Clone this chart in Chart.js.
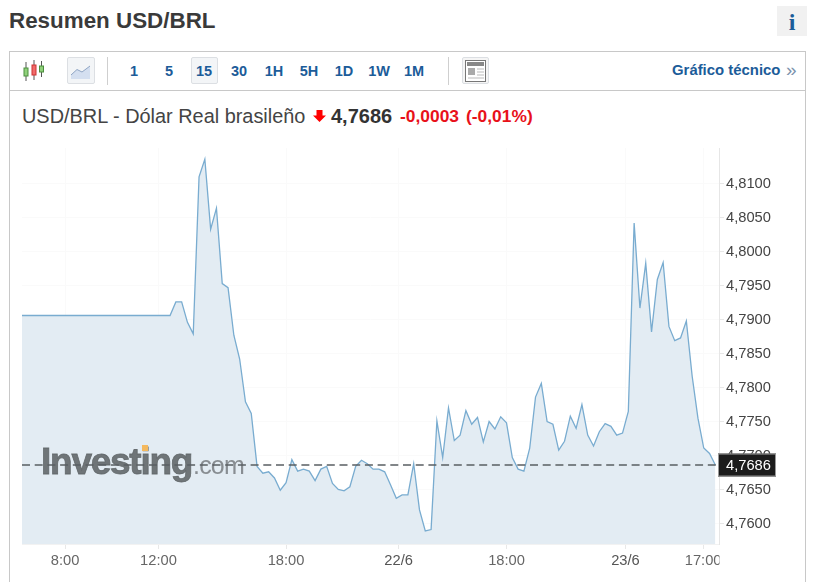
<!DOCTYPE html>
<html lang="es"><head><meta charset="utf-8"><title>USD/BRL</title>
<script src="https://cdn.jsdelivr.net/npm/chart.js@4"></script>
<style>
html,body{margin:0;padding:0;background:#fff;overflow:hidden}
body{width:818px;height:582px;position:relative;font-family:"Liberation Sans",Arial,sans-serif;color:#333}
.a{position:absolute;white-space:nowrap}
.tf{position:absolute;top:63px;width:30px;text-align:center;font-weight:bold;font-size:14.5px;line-height:17px;color:#1c5c99}
.btn{position:absolute;top:57px;height:27px;box-sizing:border-box;border:1px solid #dcdfe3;border-radius:2px;background:#f3f5f7}
canvas{position:absolute;left:0;top:0}
</style></head><body>
<div class="a" style="left:9px;top:8px;font-size:22.4px;line-height:26px;font-weight:bold;color:#3a3a3a">Resumen USD/BRL</div>
<div class="a" style="left:777px;top:6px;width:30px;height:30px;background:#f1f1f1;color:#1c5c99;font:bold 24px/32px 'Liberation Serif',serif;text-align:center">i</div>
<div class="a" style="left:9px;top:51px;width:797px;height:531px;box-sizing:border-box;border:1px solid #c8c8c8;border-bottom:0"></div>
<div class="a" style="left:10px;top:90px;width:795px;height:1px;background:#c8c8c8"></div>
<svg class="a" style="left:22px;top:60px" width="24" height="22" viewBox="0 0 24 22">
<path d="M4 2v19M12 0v20M19.500 1v16" stroke="#555" stroke-width="1" fill="none"/>
<rect x="2" y="8" width="4" height="8" fill="#8fd07a" stroke="#4d8f3f"/><rect x="10" y="5" width="4" height="10" fill="#f06a6a" stroke="#c33"/><rect x="17.500" y="6" width="4" height="6" fill="#8fd07a" stroke="#4d8f3f"/></svg>
<div class="btn" style="left:67px;width:28px"></div>
<svg class="a" style="left:70px;top:62px" width="22" height="18" viewBox="0 0 22 18">
<path d="M1 13L7 7.500 12 10 20 4V17H1Z" fill="#d4dff0"/><path d="M1 13L7 7.500 12 10 20 4" stroke="#8fa5c4" fill="none"/></svg>
<div class="a" style="left:107px;top:57px;width:1px;height:28px;background:#cfcfcf"></div>
<div class="btn" style="left:191px;width:27px"></div>
<div class="tf" style="left:119px">1</div><div class="tf" style="left:154px">5</div><div class="tf" style="left:189px">15</div><div class="tf" style="left:224px">30</div><div class="tf" style="left:259px">1H</div><div class="tf" style="left:294px">5H</div><div class="tf" style="left:329px">1D</div><div class="tf" style="left:364px">1W</div><div class="tf" style="left:399px">1M</div>
<div class="a" style="left:448px;top:57px;width:1px;height:28px;background:#cfcfcf"></div>
<div class="btn" style="left:462px;width:27px;background:#f5f5f5"></div>
<svg class="a" style="left:465px;top:60px" width="21" height="22" viewBox="0 0 21 22">
<rect x=".5" y=".5" width="20" height="21" fill="#fff" stroke="#777"/><rect x="2" y="2" width="17" height="4" fill="#888"/><rect x="3" y="8" width="7" height="7" fill="#aaa"/><path d="M12 9h7M12 12h7M12 15h7M3 18h16" stroke="#bbb"/></svg>
<div class="a" style="left:672px;top:62px;font-size:14.9px;line-height:17px;font-weight:bold;color:#1c5c99">Gráfico técnico</div>
<div class="a" style="left:786px;top:60px;font-size:19px;line-height:20px;color:#7c93ad">»</div>
<div class="a" style="left:22px;top:105px;font-size:19.9px;line-height:22px;color:#444">USD/BRL - Dólar Real brasileño</div>
<svg class="a" style="left:313px;top:110px" width="13" height="12" viewBox="0 0 13 12"><path d="M3.500 0h6v5.500H13L6.500 12 0 5.500h3.500Z" fill="#f00"/></svg>
<div class="a" style="left:331px;top:105px;font-size:20px;line-height:23px;font-weight:bold;color:#333">4,7686</div>
<div class="a" style="left:400px;top:106px;font-size:17.4px;line-height:20px;font-weight:bold;color:#e8111a">-0,0003</div>
<div class="a" style="left:466px;top:106px;font-size:17.4px;line-height:20px;font-weight:bold;color:#e8111a">(-0,01%)</div>
<canvas id="c" width="818" height="582"></canvas>
<script>
const pointSlots = Array.from({length:121},(_,i)=>i);
const prices = [
4.7906,4.7906,4.7906,4.7906,4.7906,4.7906,4.7906,4.7906,4.7906,4.7906,
4.7906,4.7906,4.7906,4.7906,4.7906,4.7906,4.7906,4.7906,4.7906,4.7906,
4.7906,4.7906,4.7906,4.7906,4.7906,4.7906,4.7906,4.7926,4.7926,4.7896,
4.7879,4.8110,4.8136,4.8033,4.8064,4.7953,4.7947,4.7877,4.7842,4.7779,
4.7762,4.7684,4.7674,4.7676,4.7667,4.7649,4.7660,4.7694,4.7677,4.7680,
4.7677,4.7663,4.7680,4.7684,4.7659,4.7650,4.7648,4.7654,4.7684,4.7693,
4.7688,4.7680,4.7680,4.7676,4.7657,4.7637,4.7642,4.7642,4.7688,4.7620,
4.7589,4.7591,4.7751,4.7697,4.7770,4.7722,4.7730,4.7766,4.7746,4.7756,
4.7720,4.7750,4.7739,4.7757,4.7748,4.7697,4.7680,4.7677,4.7711,4.7786,
4.7806,4.7750,4.7746,4.7708,4.7721,4.7758,4.7740,4.7775,4.7730,4.7714,
4.7735,4.7747,4.7743,4.7730,4.7733,4.7765,4.8042,4.7917,4.7983,4.7882,
4.7959,4.7984,4.7890,4.7869,4.7873,4.7898,4.7817,4.7755,4.7711,4.7703,4.7686];
const xTickSlots = [7.9,24,46,65.4,84,104.5,117.9];
const xTickLabels = ['8:00','12:00','18:00','22/6','18:00','23/6','17:00'];
const dayLabels = ['22/6','23/6'];
const yTicks = [4.76,4.765,4.77,4.775,4.78,4.785,4.79,4.795,4.80,4.805,4.81];
const lastPrice = 4.7686;
const fmt = v => v.toFixed(4).replace('.',',');

const overlay = {
  id:'overlay',
  afterDatasetsDraw(ch){
    const {ctx,chartArea:a,scales:{y}} = ch;
    ctx.save();
    ctx.textAlign='left';ctx.textBaseline='alphabetic';
    ctx.fillStyle='rgba(95,100,103,.88)';
    ctx.strokeStyle='rgba(95,100,103,.88)';ctx.lineWidth=.8;
    ctx.font='bold 37px "Liberation Sans"';ctx.letterSpacing='-1.25px';
    ctx.fillText('Investing',41,474);ctx.strokeText('Investing',41,474);
    ctx.fillStyle='rgba(120,125,128,.85)';
    ctx.font='25px "Liberation Sans"';ctx.letterSpacing='-.8px';
    ctx.fillText('.com',193,474);
    ctx.letterSpacing='0px';
    ctx.fillStyle='#f4b95e';ctx.fillRect(142,445,6,6);
    const py=y.getPixelForValue(lastPrice);
    ctx.strokeStyle='#5a5f63';ctx.lineWidth=1.5;ctx.setLineDash([8,4.7]);
    ctx.beginPath();ctx.moveTo(a.left,py);ctx.lineTo(a.right-3,py);ctx.stroke();
    ctx.restore();
  },
  afterDraw(ch){
    const {ctx,scales:{y}} = ch;
    const py=y.getPixelForValue(lastPrice);
    ctx.save();
    ctx.fillStyle='#fff';ctx.fillRect(719.500,545,6,37);
    ctx.fillStyle='#1c1c1c';ctx.strokeStyle='#999';ctx.lineWidth=1;
    ctx.fillRect(718,py-11.500,58,23);
    ctx.strokeRect(718.500,py-11,57,22);
    ctx.fillStyle='#fff';ctx.font='14.7px "Liberation Sans"';ctx.textAlign='left';ctx.textBaseline='middle';
    ctx.fillText(fmt(lastPrice),726,py+.5);
    ctx.restore();
  }
};

new Chart(document.getElementById('c'),{
  type:'line',
  data:{labels:pointSlots,datasets:[{
    data:pointSlots.map((s,i)=>({x:s,y:prices[i]})),
    borderColor:'#79acd0',borderWidth:1.3,backgroundColor:'#e3ecf3',
    fill:'start',pointRadius:0,tension:0
  }]},
  plugins:[overlay],
  options:{
    responsive:false,animation:false,
    layout:{padding:{left:22,top:148,right:0,bottom:0}},
    plugins:{legend:{display:false},tooltip:{enabled:false}},
    scales:{
      x:{type:'linear',min:.48,max:120.63,
        afterBuildTicks(s){s.ticks=xTickSlots.map(v=>({value:v}));},
        afterFit(s){s.height=38;},
        grid:{color:'#fafafa',tickColor:'#e8e8e8',tickLength:5},
        border:{color:'#f2f2f2'},
        ticks:{autoSkip:false,maxRotation:0,padding:3,
          font:{family:'"Liberation Sans"',size:14.7},
          color:c=>dayLabels.includes(xTickLabels[c.index])?'#555':'#666',
          callback:(v,i)=>xTickLabels[i]}},
      y:{position:'right',min:4.75698,max:4.81525,
        afterBuildTicks(s){s.ticks=yTicks.map(v=>({value:v}));},
        afterFit(s){s.width=99;},
        grid:{color:'#fafafa',tickColor:'#e8e8e8',tickLength:5},
        border:{color:'#e6e6e6',width:1},
        ticks:{padding:2,font:{family:'"Liberation Sans"',size:14.7},color:'#444',
          callback:v=>fmt(v)}}
    }
  }
});
</script>
</body></html>
